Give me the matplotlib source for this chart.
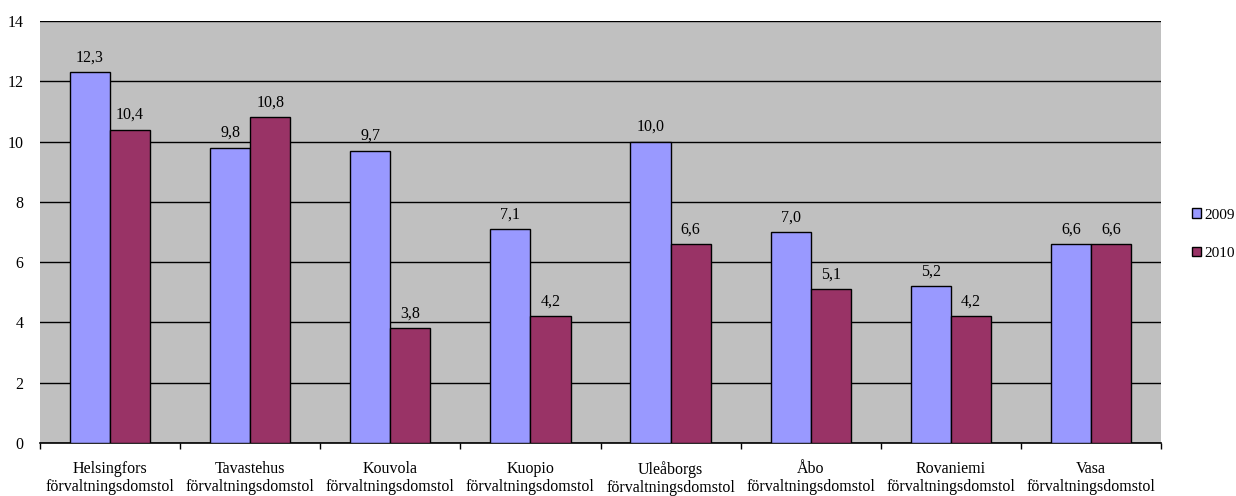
import matplotlib.pyplot as plt
import numpy as np

plt.rcParams['font.family'] = ['Liberation Serif', 'DejaVu Serif']

courts = ["Helsingfors", "Tavastehus", "Kouvola", "Kuopio",
          "Uleåborgs", "Åbo", "Rovaniemi", "Vasa"]
labels = [c + "\nförvaltningsdomstol" for c in courts]
v2009 = [12.3, 9.8, 9.7, 7.1, 10.0, 7.0, 5.2, 6.6]
v2010 = [10.4, 10.8, 3.8, 4.2, 6.6, 5.1, 4.2, 6.6]
years = ["2009", "2010"]
colors = ["#9999FF", "#993366"]

fig = plt.figure(figsize=(12.36, 4.96), dpi=100)
ax = fig.add_axes([40/1236, 53/496, 1121/1236, 422/496])
ax.set_facecolor("#C0C0C0")

x = np.arange(len(courts))
w = 0.286
for i, (vals, col, yr) in enumerate(zip([v2009, v2010], colors, years)):
    pos = x + (i - 0.5) * w
    bars = ax.bar(pos, vals, w, color=col, edgecolor="black", linewidth=1, label=yr, zorder=3)
    for p, v in zip(pos, vals):
        ax.text(p, v + 0.22, f"{v:.1f}".replace(".", ","), ha="center", va="bottom", fontsize=11.5)

ax.set_ylim(0, 14)
ax.set_yticks(range(0, 15, 2))
ax.set_xlim(-0.5, len(courts) - 0.5)
ax.yaxis.grid(True, color="black", linewidth=1, zorder=0)
ax.set_axisbelow(True)
ax.tick_params(axis="y", length=0, labelsize=11.5, pad=12)
ax.set_xticks(x)
ax.set_xticklabels(labels, fontsize=11.5, linespacing=1.15)
ax.tick_params(axis="x", length=0, pad=13)
ax.set_xticks(np.arange(-0.5, len(courts)), minor=True)
ax.tick_params(axis="x", which="minor", length=4, width=1, direction="out")
for s in ["top", "right", "left"]:
    ax.spines[s].set_visible(False)
ax.spines["bottom"].set_linewidth(1.2)

fig.legend(loc="center left", bbox_to_anchor=(1192/1236, 0.528), frameon=False,
           fontsize=11, handlelength=0.6, handleheight=0.6, labelspacing=1.65,
           handletextpad=0.2, borderpad=0, borderaxespad=0)

plt.savefig("out.png")
